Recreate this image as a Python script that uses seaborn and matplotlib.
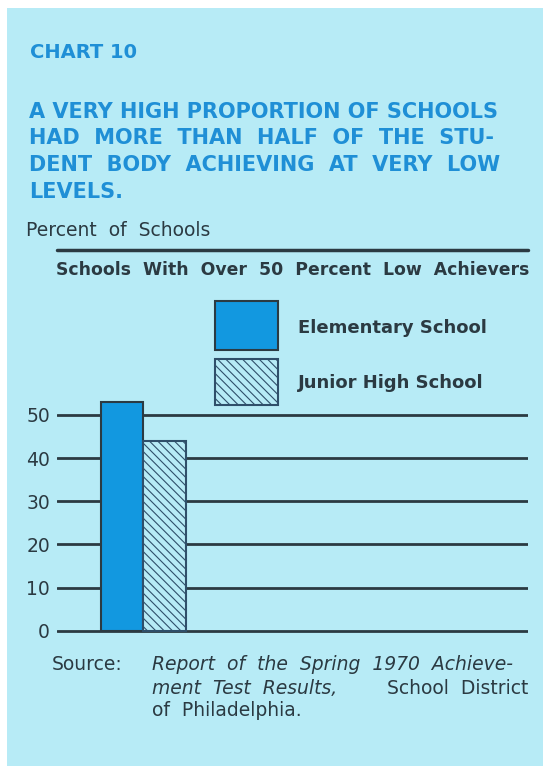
import pandas as pd
import matplotlib.pyplot as plt
import seaborn as sns
from matplotlib.patches import Rectangle
from matplotlib.lines import Line2D

# data
schools = ['Elementary School', 'Junior High School']
pct_low = [53, 44]
yticks = [0, 10, 20, 30, 40, 50]

title_lines = ['A VERY HIGH PROPORTION OF SCHOOLS',
               'HAD  MORE  THAN  HALF  OF  THE  STU-',
               'DENT  BODY  ACHIEVING  AT  VERY  LOW',
               'LEVELS.']

bg = '#b7ebf6'
blue = '#1298e0'
title_blue = '#1f8fd6'
ink = '#2b3a42'
hatch_ink = '#2f4f6a'

sns.set_theme(style='white')
plt.rcParams['font.family'] = ['DejaVu Sans']
plt.rcParams['hatch.linewidth'] = 0.8

W, H = 543, 766
fig = plt.figure(figsize=(W / 100, H / 100), dpi=100)
fig.patch.set_facecolor('white')
fig.patches.append(Rectangle((7 / W, 0), 1, 1 - 8 / H, transform=fig.transFigure,
                             facecolor=bg, edgecolor='none', zorder=-10))


def fx(px):
    return px / W


def fy(px):
    return 1 - px / H


fig.text(fx(30), fy(52), 'CHART 10', color=title_blue, fontsize=14, fontweight='bold',
         va='center')
for i, line in enumerate(title_lines):
    fig.text(fx(29), fy(112 + i * 26.5), line, color=title_blue, fontsize=15,
             fontweight='bold', va='center')

fig.text(fx(26), fy(230), 'Percent  of  Schools', color=ink, fontsize=13.5, va='center')
fig.add_artist(Line2D([fx(57), fx(528)], [fy(250), fy(250)], color=ink, lw=2.5,
                      transform=fig.transFigure))
fig.text(fx(293), fy(270), 'Schools  With  Over  50  Percent  Low  Achievers', color=ink,
         fontsize=12.4, fontweight='bold', ha='center', va='center')

# legend drawn by hand
fig.patches.append(Rectangle((fx(215), fy(350)), fx(63), 49 / H, transform=fig.transFigure,
                             facecolor=blue, edgecolor=ink, lw=1.5))
fig.patches.append(Rectangle((fx(215), fy(405)), fx(63), 46 / H, transform=fig.transFigure,
                             facecolor=bg, edgecolor=hatch_ink, lw=1.5, hatch='\\\\\\\\'))
fig.text(fx(298), fy(328), schools[0], color=ink, fontsize=13, fontweight='bold',
         va='center')
fig.text(fx(298), fy(383), schools[1], color=ink, fontsize=13, fontweight='bold',
         va='center')

# bars
ax = fig.add_axes([fx(57), fy(633), fx(471), 55.5 * 4.32 / H])
ax.set_facecolor('none')
df = pd.DataFrame({'group': ['all', 'all'], 'school': schools, 'pct': pct_low})
sns.barplot(data=df, x='group', y='pct', hue='school', palette=[blue, bg], ax=ax,
            width=0.8, edgecolor=ink, linewidth=1.5, legend=False, zorder=3,
            saturation=1)
ax.patches[1].set_hatch('\\\\\\\\')
ax.patches[1].set_edgecolor(hatch_ink)

ax.set_xlim(-0.815, 3.63)
ax.set_ylim(-0.5, 55)
ax.set_yticks(yticks)
ax.set_yticklabels([str(t) for t in yticks], color=ink, fontsize=13.5)
ax.tick_params(axis='y', length=0, pad=5)
ax.set_xticks([])
ax.set_xlabel('')
ax.set_ylabel('')
ax.yaxis.grid(True, color=ink, lw=2)
ax.set_axisbelow(True)
for s in ax.spines.values():
    s.set_visible(False)

fs = 13.5
fig.text(fx(52), fy(665), 'Source:', color=ink, fontsize=fs, va='center')
fig.text(fx(152), fy(665), 'Report  of  the  Spring  1970  Achieve-', color=ink,
         fontsize=fs, style='italic', va='center')
fig.text(fx(152), fy(688), 'ment  Test  Results,', color=ink, fontsize=fs,
         style='italic', va='center')
fig.text(fx(528), fy(688), 'School  District', color=ink, fontsize=fs, va='center',
         ha='right')
fig.text(fx(152), fy(711), 'of  Philadelphia.', color=ink, fontsize=fs, va='center')

fig.savefig('out.png', dpi=100, facecolor=fig.get_facecolor())
